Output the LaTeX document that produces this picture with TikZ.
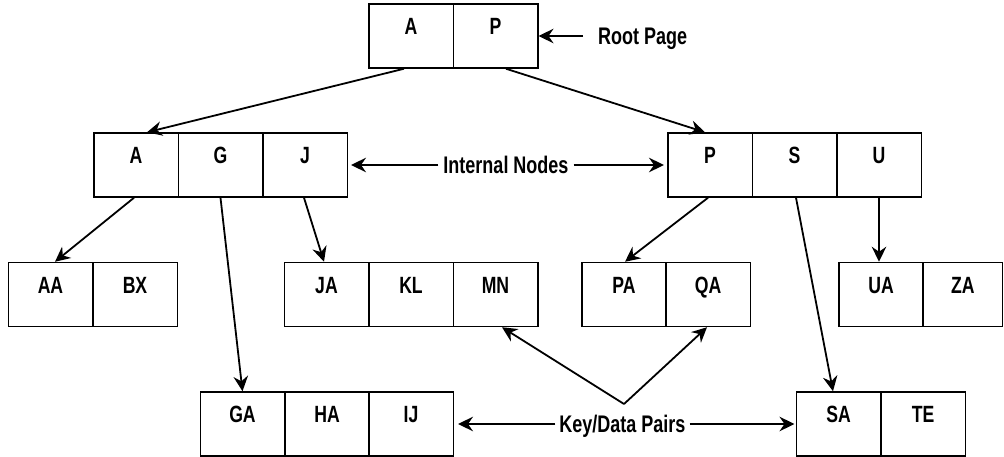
\documentclass[tikz,border=0pt]{standalone}
\usepackage{fontspec}
\setmainfont{Liberation Sans}[FakeStretch=0.75,UprightFont=* Bold]
\usetikzlibrary{arrows.meta}
\newcommand\cellfont{\fontsize{23.5}{27}\selectfont}
\newcommand\lblfont{\fontsize{24}{28}\selectfont}
\begin{document}
\begin{tikzpicture}[x=1pt,y=-1pt,
  cell/.style={draw, line width=1.5pt, minimum width=84.5pt, minimum height=64pt,
    inner sep=0pt, text height=17pt, text depth=19.2pt, font=\cellfont},
  lbl/.style={inner ysep=0pt, text height=17.2pt, text depth=0pt, font=\lblfont},
  link/.style={line width=1.8pt, -{Stealth[length=15pt,width=14.5pt,inset=5pt]}}]
\useasboundingbox (0,0) rectangle (1004,457);

% root page
\node[cell] (rA) at (411,36) {A};
\node[cell] (rP) at (495.5,36) {P};

% internal nodes
\node[cell] (LA) at (136,165) {A};
\node[cell] (LG) at (220.5,165) {G};
\node[cell] (LJ) at (305,165) {J};
\node[cell] (RP) at (710,165) {P};
\node[cell] (RS) at (794.5,165) {S};
\node[cell] (RU) at (879,165) {U};

% leaf pages, upper row
\node[cell] (AA) at (50.5,294.5) {AA};
\node[cell] (BX) at (135,294.5) {BX};
\node[cell] (JA) at (326.5,294.5) {JA};
\node[cell] (KL) at (411,294.5) {KL};
\node[cell] (MN) at (495.5,294.5) {MN};
\node[cell] (PA) at (624,294.5) {PA};
\node[cell] (QA) at (708,294.5) {QA};
\node[cell] (UA) at (881,294.5) {UA};
\node[cell, minimum width=79.5pt] (ZA) at (962.75,294.5) {ZA};

% leaf pages, lower row
\node[cell] (GA) at (242.5,424) {GA};
\node[cell] (HA) at (327,424) {HA};
\node[cell] (IJ) at (411,424) {IJ};
\node[cell] (SA) at (838.5,424) {SA};
\node[cell] (TE) at (923,424) {TE};

% child pointers
\draw[link] ([xshift=-7pt]rA.south) -- ([xshift=11pt]LA.north);
\draw[link] ([xshift=10.5pt]rP.south) -- ([xshift=-5pt]RP.north);
\draw[link] ([xshift=-2pt]LA.south) -- ([xshift=4.5pt]AA.north);
\draw[link] (LG.south) -- (GA.north);
\draw[link] ([xshift=-1pt]LJ.south) -- ([xshift=-2.5pt]JA.north);
\draw[link] ([xshift=-2pt]RP.south) -- ([xshift=1pt]PA.north);
\draw[link] ([xshift=1.5pt]RS.south) -- ([xshift=-5.5pt]SA.north);
\draw[link] (RU.south) -- ([xshift=-2pt]UA.north);

% labels
\node[lbl, anchor=west, inner xsep=15pt] (rootlbl) at (583,36) {Root Page};
\draw[link] (rootlbl.west) -- (rP.east);

\node[lbl, inner xsep=5pt] (intlbl) at (506,165) {Internal Nodes};
\draw[link, shorten >=3pt] (intlbl.west) -- (LJ.east);
\draw[link, shorten >=3pt] (intlbl.east) -- (RP.west);

\node[lbl, inner xsep=4pt] (kdlbl) at (622.5,424) {Key/Data Pairs};
\draw[link, shorten >=4pt] (kdlbl.west) -- (IJ.east);
\draw[link, shorten >=1pt] (kdlbl.east) -- (SA.west);
\coordinate (apex) at (624,404);
\draw[link] (apex) -- ([xshift=6.5pt]MN.south);
\draw[link] (apex) -- ([xshift=-1pt]QA.south);
\end{tikzpicture}
\end{document}
